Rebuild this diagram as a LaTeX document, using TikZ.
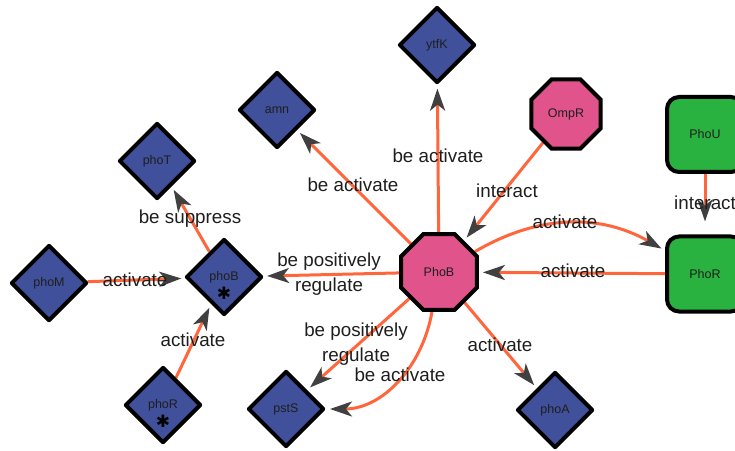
\documentclass[tikz,border=0pt]{standalone}
\usepackage{fontspec}
\setmainfont{Liberation Sans}
\newfontfamily\symfont{DejaVu Sans}
\usetikzlibrary{shapes.geometric,arrows.meta,backgrounds}

\definecolor{genefill}{RGB}{64,80,155}
\definecolor{regfill}{RGB}{224,84,139}
\definecolor{protfill}{RGB}{42,178,64}
\definecolor{linkcol}{RGB}{255,102,60}
\definecolor{tipcol}{RGB}{64,64,64}
\definecolor{txtcol}{RGB}{30,30,30}

\begin{document}
\begin{tikzpicture}[x=1pt,y=1pt,
  nodefont/.style={font=\fontsize{12.5}{15}\selectfont, text=txtcol},
  gene/.style={diamond, aspect=1, draw=black, line width=4pt, line join=round,
    fill=genefill, minimum width=76pt, minimum height=76pt, inner sep=0pt, nodefont},
  regulator/.style={regular polygon, regular polygon sides=8, draw=black,
    line width=4pt, fill=regfill, inner sep=0pt, nodefont},
  protein/.style={rectangle, rounded corners=12pt, draw=black, line width=4pt,
    fill=protfill, minimum width=76pt, minimum height=75pt, nodefont},
  starred/.style={label={[font=\symfont\fontsize{17}{17}\selectfont, text=black,
    inner sep=0pt, shift={(0,-16pt)}]center:✱}},
  link/.style={draw=linkcol, line width=3pt,
    -{Stealth[length=22pt,width=15pt,inset=6pt,color=tipcol]}, shorten >=4pt},
  lbl/.style={font=\fontsize{18.8}{25}\selectfont, text=txtcol, inner sep=0pt,
    align=center, text height=13pt, text depth=4pt},
  lbltwo/.style={font=\fontsize{18.8}{25}\selectfont, text=txtcol, inner sep=0pt,
    align=center},
]
\useasboundingbox (0,0) rectangle (735,450);

% regulators
\node[regulator, minimum size=82pt] (PhoB) at (439,178) {PhoB};
\node[regulator, minimum size=75pt] (OmpR) at (566,336) {OmpR};

% proteins
\node[protein] (PhoU) at (705,315.5) {PhoU};
\node[protein] (PhoR) at (705,176) {PhoR};

% genes
\node[gene] (ytfK) at (437,405) {ytfK};
\node[gene] (amn)  at (277,340) {amn};
\node[gene] (phoT) at (157,289) {phoT};
\node[gene] (phoM) at (49,167)  {phoM};
\node[gene, starred] (phoB) at (224,173) {phoB};
\node[gene, starred] (phoRg) at (163,45) {phoR};
\node[gene] (pstS) at (286,41)  {pstS};
\node[gene] (phoA) at (555,40)  {phoA};

% interactions
\begin{scope}[on background layer]
\draw[link] (PhoB) -- (ytfK) node[lbl] at (438,292) {be activate};
\draw[link] (PhoB) -- (amn) node[lbl] at (353,263) {be activate};
\draw[link] (OmpR) -- (PhoB) node[lbl] at (507,257) {interact};
\draw[link] (PhoB) to[bend left=30] (PhoR) node[lbl] at (565,226) {activate};
\draw[link] (PhoR) -- (PhoB) node[lbl] at (573,177) {activate};
\draw[link, shorten >=13pt] (PhoU) -- (PhoR) node[lbl] at (705,245) {interact};
\draw[link] (PhoB) -- (phoB) node[lbltwo] at (329,175.5) {be positively\\regulate};
\draw[link] (phoM) -- (phoB) node[lbl] at (135,168) {activate};
\draw[link] (phoB) -- (phoT) node[lbl] at (190,231) {be suppress};
\draw[link] (phoRg) -- (phoB) node[lbl] at (193,108) {activate};
\draw[link] (PhoB) -- (pstS) node[lbltwo] at (356,105.5) {be positively\\regulate};
\draw[link] (PhoB) to[out=-100, in=0] (pstS) node[lbl] at (400,73) {be activate};
\draw[link] (PhoB) -- (phoA) node[lbl] at (500,103) {activate};
\end{scope}
\end{tikzpicture}
\end{document}
